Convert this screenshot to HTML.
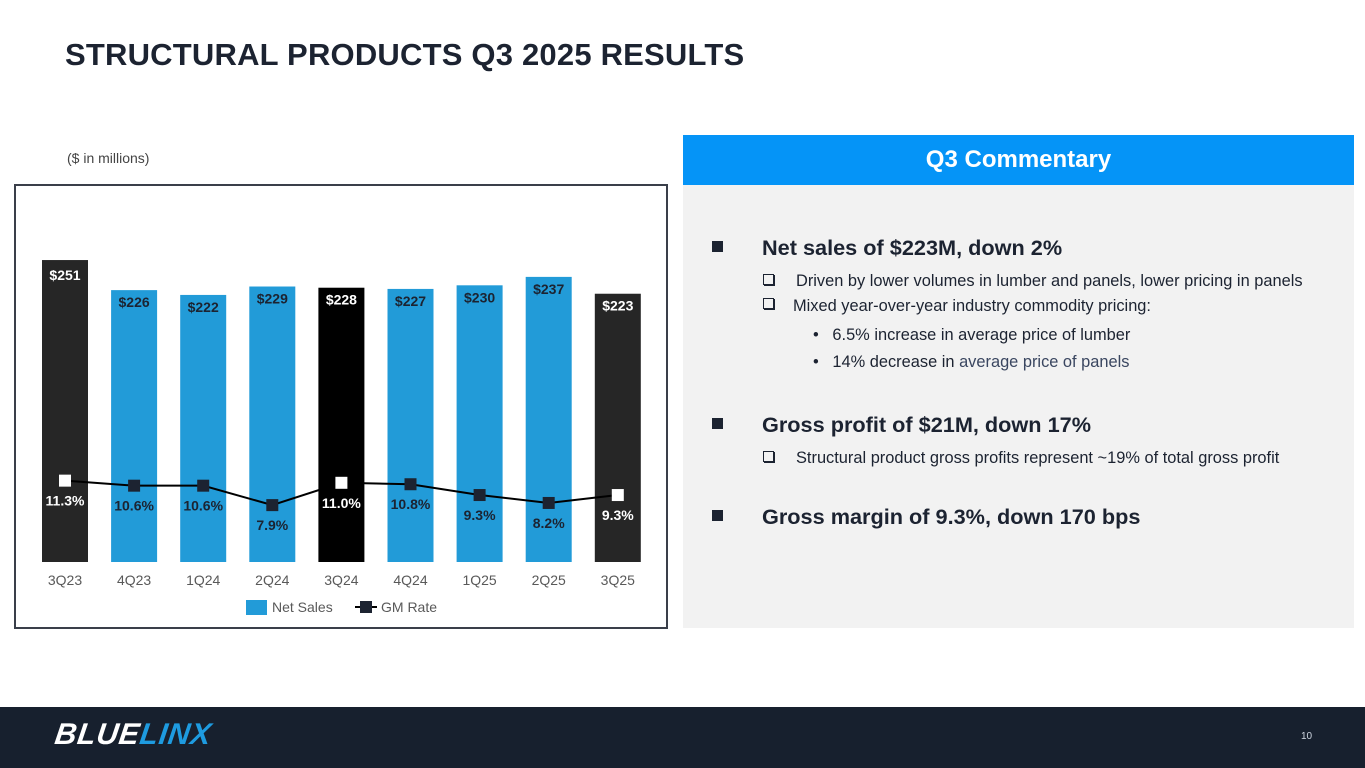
<!DOCTYPE html>
<html><head><meta charset="utf-8"><style>
body{margin:0;width:1365px;height:768px;position:relative;background:#fff;font-family:"Liberation Sans",Arial,sans-serif;overflow:hidden}
.abs{position:absolute}
.t{font-size:16.4px;color:#1c2331;white-space:nowrap}
.h{font-size:21.7px;font-weight:bold;color:#1c2331;white-space:nowrap}
.sq{width:11px;height:11px;background:#1c2331}
.cb{width:9px;height:9px;border:1px solid #1c2331;box-shadow:1px 1px 0 #1c2331}
</style></head><body>
<div class="abs" style="left:65px;top:37px;font-size:31px;letter-spacing:0.2px;font-weight:bold;color:#1c2331;white-space:nowrap">STRUCTURAL PRODUCTS Q3 2025 RESULTS</div>
<div class="abs" style="left:67px;top:150px;font-size:14px;color:#444">($ in millions)</div>
<div class="abs" style="left:14px;top:184px;width:650px;height:441px;border:2px solid #3a3f4a"></div>
<svg class="abs" style="left:0;top:0" width="680" height="640" id="chart"></svg>
<div class="abs" style="left:683px;top:135px;width:671px;height:493px;background:#f2f2f2"></div>
<div class="abs" style="left:683px;top:135px;width:671px;height:50px;background:#0594f7;color:#fff;font-size:24px;font-weight:bold;text-align:center;line-height:50px">Q3 Commentary</div>
<div class="abs sq" style="left:712px;top:241px"></div>
<div class="abs h" style="left:762px;top:235px">Net sales of $223M, down 2%</div>
<div class="abs cb" style="left:763px;top:274px"></div>
<div class="abs t" style="left:796px;top:272px">Driven by lower volumes in lumber and panels, lower pricing in panels</div>
<div class="abs cb" style="left:763px;top:298px"></div>
<div class="abs t" style="left:793px;top:297px">Mixed year-over-year industry commodity pricing:</div>
<div class="abs t" style="left:813px;top:326px">•&nbsp;&nbsp;&nbsp;6.5% increase in average price of lumber</div>
<div class="abs t" style="left:813px;top:353px">•&nbsp;&nbsp;&nbsp;14% decrease in <span style="color:#3a4660">average price of panels</span></div>
<div class="abs sq" style="left:712px;top:418px"></div>
<div class="abs h" style="left:762px;top:412px">Gross profit of $21M, down 17%</div>
<div class="abs cb" style="left:763px;top:451px"></div>
<div class="abs t" style="left:796px;top:449px">Structural product gross profits represent ~19% of total gross profit</div>
<div class="abs sq" style="left:712px;top:510px"></div>
<div class="abs h" style="left:762px;top:504px">Gross margin of 9.3%, down 170 bps</div>
<div class="abs" style="left:0;top:707px;width:1365px;height:61px;background:#17202e"></div>
<div class="abs" style="left:55px;top:718px;font-size:30px;font-weight:900;font-style:italic;letter-spacing:0.8px;white-space:nowrap;transform:skewX(-8deg)"><span style="color:#fff">BLUE</span><span style="color:#1e9be0">LINX</span></div>
<div class="abs" style="left:1301px;top:731px;font-size:10px;color:#cfd6e0">10</div>
<script>
const categories=["3Q23","4Q23","1Q24","2Q24","3Q24","4Q24","1Q25","2Q25","3Q25"];
const netSales=[251,226,222,229,228,227,230,237,223];
const gmRate=[11.3,10.6,10.6,7.9,11.0,10.8,9.3,8.2,9.3];
const salesLabels=["$251","$226","$222","$229","$228","$227","$230","$237","$223"];
const gmLabels=["11.3%","10.6%","10.6%","7.9%","11.0%","10.8%","9.3%","8.2%","9.3%"];
const highlight=[1,0,0,0,2,0,0,0,1];
const NS="http://www.w3.org/2000/svg";
const svg=document.getElementById('chart');
const base=562;
const xC=i=>65+i*69.1;
const yS=v=>base-v*1.203;
const yG=v=>base-v*7.2;
function mk(tag,attrs,txt){const e=document.createElementNS(NS,tag);for(const k in attrs)e.setAttribute(k,attrs[k]);if(txt!=null)e.textContent=txt;svg.appendChild(e);return e;}
const barCol=["#229bd8","#262626","#000"];
categories.forEach((c,i)=>{
 const y=yS(netSales[i]);
 const b=mk('rect',{x:xC(i)-23,y:y,width:46,height:base-y,fill:barCol[highlight[i]]});
 
 
 const t=mk('text',{x:xC(i),y:y+(i==0?20:17),'text-anchor':'middle','font-size':14,'font-weight':'bold',fill:highlight[i]?'#fff':'#1c2331'},salesLabels[i]);
 
 
 const xl=mk('text',{x:xC(i),y:585,'text-anchor':'middle','font-size':14,fill:'#595959'},c);
 
 
});
const pts=gmRate.map((v,i)=>xC(i)+','+yG(v)).join(' ');
const line=mk('polyline',{points:pts,fill:'none',stroke:'#000',"stroke-width":2});


categories.forEach((c,i)=>{
 const y=yG(gmRate[i]);
 const m=mk('rect',{x:xC(i)-6,y:y-6,width:12,height:12,fill:highlight[i]?'#fff':'#1c2331'});
 
 
 const t=mk('text',{x:xC(i),y:y+25,'text-anchor':'middle','font-size':14,'font-weight':'bold',fill:highlight[i]?'#fff':'#1c2331'},gmLabels[i]);
 
 
});
const l1=mk('rect',{x:246,y:600,width:21,height:15,fill:'#229bd8'});


const l1t=mk('text',{x:272,y:612,'font-size':14,fill:'#595959'},'Net Sales');


const l2=mk('line',{x1:355,y1:607,x2:377,y2:607,stroke:'#000','stroke-width':2});


const l2m=mk('rect',{x:360,y:601,width:12,height:12,fill:'#1c2331'});


const l2t=mk('text',{x:381,y:612,'font-size':14,fill:'#595959'},'GM Rate');


</script>
</body></html>
